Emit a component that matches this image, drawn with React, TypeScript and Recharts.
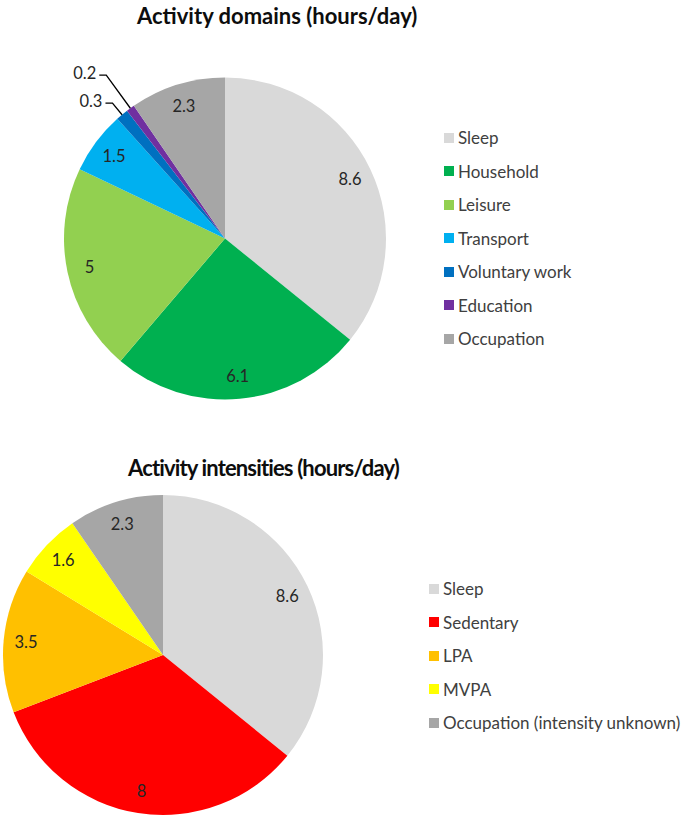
import React from "react";
import { PieChart, Pie, Cell, Legend } from "recharts";

const domainNames = ["Sleep", "Household", "Leisure", "Transport", "Voluntary work", "Education", "Occupation"];
const domainHours = [8.6, 6.1, 5, 1.5, 0.3, 0.2, 2.3];
const domainColors = ["#D9D9D9", "#00B050", "#92D050", "#00B0F0", "#0070C0", "#7030A0", "#A6A6A6"];

const intensityNames = ["Sleep", "Sedentary", "LPA", "MVPA", "Occupation (intensity unknown)"];
const intensityHours = [8.6, 8, 3.5, 1.6, 2.3];
const intensityColors = ["#D9D9D9", "#FF0000", "#FFC000", "#FFFF00", "#A6A6A6"];

const FONT = "Lato, 'Open Sans', sans-serif";
const RAD = Math.PI / 180;

const makeLabel = (values: number[]) => (props: any) => {
  const { cx, cy, midAngle, outerRadius, value, index } = props;
  const cos = Math.cos(-midAngle * RAD);
  const sin = Math.sin(-midAngle * RAD);
  if (value >= 1) {
    const r = outerRadius * 0.86;
    return (
      <text x={cx + r * cos} y={cy + r * sin} textAnchor="middle" dominantBaseline="central"
        fill="#262626" fontSize={16.5} fontFamily={FONT}>
        {value}
      </text>
    );
  }
  // tiny slices: leader line pulled outwards, staggered so they don't overlap
  const smallBefore = values.slice(0, index).filter((v) => v < 1).length;
  const ext = 15 + 26 * smallBefore;
  const x0 = cx + outerRadius * cos;
  const y0 = cy + outerRadius * sin;
  const x1 = cx + (outerRadius + ext) * cos;
  const y1 = cy + (outerRadius + ext) * sin;
  const x2 = x1 - 7;
  return (
    <g>
      <polyline points={`${x0},${y0} ${x1},${y1} ${x2},${y1}`} fill="none" stroke="#000" strokeWidth={1.3} />
      <text x={x2 - 3} y={y1 - 2} textAnchor="end" dominantBaseline="central"
        fill="#262626" fontSize={16.5} fontFamily={FONT}>
        {value}
      </text>
    </g>
  );
};

// keep legend in data order (Recharts sorts by name otherwise)
const makeLegend = (names: string[]) => ({ payload }: any) => {
  const items = [...(payload || [])].sort((a: any, b: any) => names.indexOf(a.value) - names.indexOf(b.value));
  return (
    <div style={{ fontFamily: FONT, fontSize: 17, color: "#404040" }}>
      {items.map((p: any) => (
        <div key={p.value} style={{ height: 33.5, display: "flex", alignItems: "center", whiteSpace: "nowrap" }}>
          <span style={{ width: 10, height: 10, background: p.color, display: "inline-block", marginRight: 4 }} />
          {p.value}
        </div>
      ))}
    </div>
  );
};

const titleStyle: React.CSSProperties = {
  position: "absolute",
  fontFamily: FONT,
  fontWeight: 700,
  fontSize: 22,
  color: "#0d0d0d",
  whiteSpace: "nowrap",
};

const App: React.FC = () => {
  const domains = domainNames.map((name, i) => ({ name, value: domainHours[i] }));
  const intensities = intensityNames.map((name, i) => ({ name, value: intensityHours[i] }));
  return (
    <div style={{ position: "absolute", left: 0, top: 0, width: 685, height: 819, background: "#fff" }}>
      <div style={{ position: "absolute", left: 0, top: 0 }}>
        <PieChart width={685} height={420} margin={{ top: 0, right: 0, bottom: 0, left: 0 }}>
          <Pie data={domains} dataKey="value" nameKey="name" cx={225} cy={238.5} outerRadius={161}
            startAngle={90} endAngle={-270} stroke="none" isAnimationActive={false}
            label={makeLabel(domainHours)} labelLine={false}>
            {domains.map((d, i) => <Cell key={d.name} fill={domainColors[i]} />)}
          </Pie>
          <Legend layout="vertical" align="right" verticalAlign="middle" content={makeLegend(domainNames)}
            itemSorter={null as any}
            wrapperStyle={{ left: 444, top: 121, right: "auto", width: 240 }} />
        </PieChart>
        <div style={{ ...titleStyle, left: 137, top: 2 }}>Activity domains (hours/day)</div>
      </div>
      <div style={{ position: "absolute", left: 0, top: 420 }}>
        <PieChart width={685} height={399} margin={{ top: 0, right: 0, bottom: 0, left: 0 }}>
          <Pie data={intensities} dataKey="value" nameKey="name" cx={163} cy={235} outerRadius={160}
            startAngle={90} endAngle={-270} stroke="none" isAnimationActive={false}
            label={makeLabel(intensityHours)} labelLine={false}>
            {intensities.map((d, i) => <Cell key={d.name} fill={intensityColors[i]} />)}
          </Pie>
          <Legend layout="vertical" align="right" verticalAlign="middle" content={makeLegend(intensityNames)}
            itemSorter={null as any}
            wrapperStyle={{ left: 429, top: 152, right: "auto", width: 256 }} />
        </PieChart>
        <div style={{ ...titleStyle, left: 128, top: 34, letterSpacing: -0.85 }}>Activity intensities (hours/day)</div>
      </div>
    </div>
  );
};

export default App;
